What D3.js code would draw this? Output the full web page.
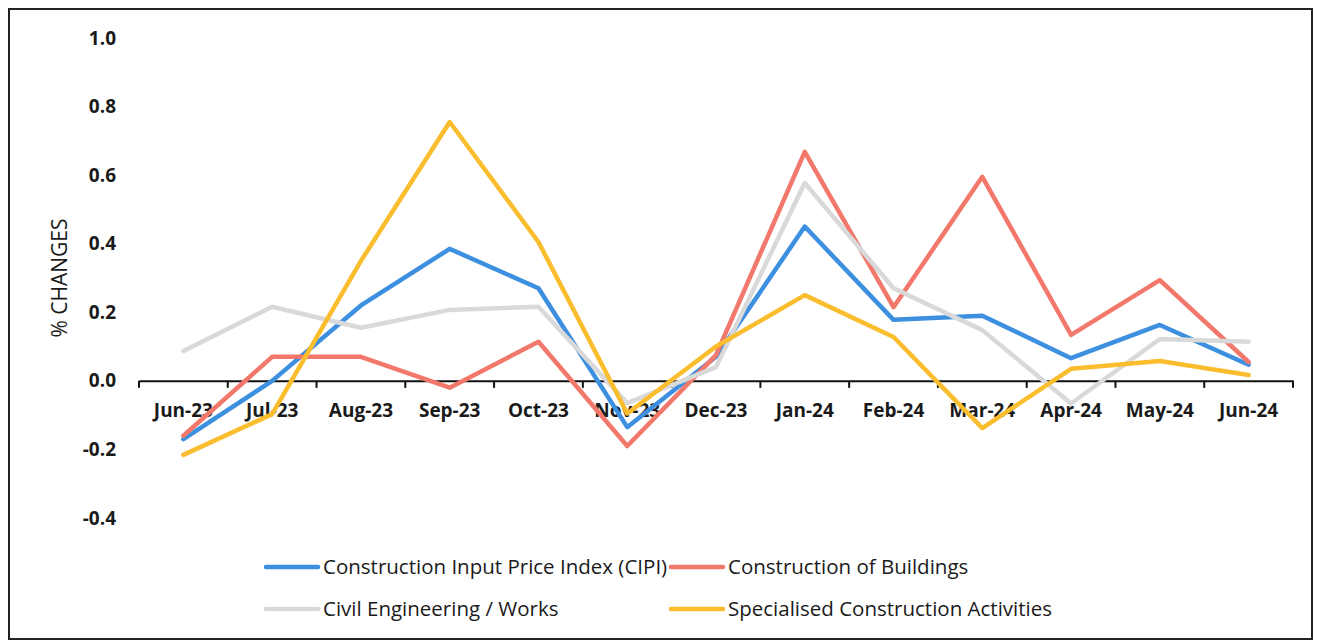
<!DOCTYPE html>
<html>
<head>
<meta charset="utf-8">
<script src="https://cdn.jsdelivr.net/npm/d3@7"></script>
<style>
  body { margin: 0; background: #fff; }
  svg { display: block; }
  text { font-family: "Open Sans", "Noto Sans", sans-serif; fill: #1a1a1a; }
</style>
</head>
<body>
<div id="chart"></div>
<script>
// months on the x axis
var months = ["Jun-23", "Jul-23", "Aug-23", "Sep-23", "Oct-23", "Nov-23", "Dec-23",
              "Jan-24", "Feb-24", "Mar-24", "Apr-24", "May-24", "Jun-24"];

// % changes
var cipi        = [-0.17, 0.00, 0.22, 0.385, 0.27, -0.135, 0.07, 0.45, 0.178, 0.19, 0.066, 0.163, 0.047];
var buildings   = [-0.16, 0.07, 0.07, -0.02, 0.114, -0.19, 0.075, 0.668, 0.215, 0.595, 0.134, 0.294, 0.055];
var civil       = [0.087, 0.216, 0.155, 0.207, 0.216, -0.065, 0.04, 0.577, 0.27, 0.148, -0.066, 0.122, 0.114];
var specialised = [-0.216, -0.097, 0.35, 0.755, 0.405, -0.095, 0.10, 0.25, 0.128, -0.138, 0.035, 0.058, 0.017];

var yTicks = [-0.4, -0.2, 0.0, 0.2, 0.4, 0.6, 0.8, 1.0];

var seriesNames = ["Construction Input Price Index (CIPI)", "Construction of Buildings",
                   "Civil Engineering / Works", "Specialised Construction Activities"];
var seriesColors = ["#3d8fe0", "#f2786b", "#d9d9d9", "#fabd2e"];

var width = 1319, height = 640;

var svg = d3.select("#chart").append("svg")
	.attr("width", width)
	.attr("height", height);

svg.append("rect")
	.attr("width", width)
	.attr("height", height)
	.attr("fill", "#fff");

// frame round the chart
svg.append("rect")
	.attr("x", 9)
	.attr("y", 9)
	.attr("width", 1303)
	.attr("height", 630)
	.attr("fill", "none")
	.attr("stroke", "#222")
	.attr("stroke-width", 2);

var x = d3.scaleBand()
	.domain(months)
	.range([139, 1293]);

var y = d3.scaleLinear()
	.domain([-0.4, 1.0])
	.range([518, 38]);

// y axis: labels only
var yAxis = svg.append("g")
	.attr("transform", "translate(124,0)")
	.call(d3.axisLeft(y)
		.tickValues(yTicks)
		.tickSize(0)
		.tickPadding(8)
		.tickFormat(function(d) { return d.toFixed(1); }));
yAxis.select(".domain").remove();
yAxis.selectAll("text")
	.style("font-size", "19px")
	.style("font-weight", "bold")
	.style("font-family", "'Open Sans', sans-serif")
	.attr("fill", "#1a1a1a");

svg.append("text")
	.attr("transform", "translate(60,278) rotate(-90)")
	.attr("text-anchor", "middle")
	.attr("dy", "0.35em")
	.style("font-size", "21px")
	.text("% CHANGES");

// x axis at zero
var xAxis = svg.append("g")
	.attr("transform", "translate(0," + y(0) + ")")
	.call(d3.axisBottom(x)
		.tickSize(0)
		.tickPadding(23));
xAxis.select(".domain")
	.attr("stroke", "#111")
	.attr("stroke-width", 2);
xAxis.selectAll("text")
	.style("font-size", "19px")
	.style("font-weight", "bold")
	.style("font-family", "'Open Sans', sans-serif")
	.attr("fill", "#1a1a1a");

// tick marks sit between the categories
var edges = months.map(function(m) { return x(m); }).concat([x.range()[1]]);
xAxis.selectAll(".edge")
	.data(edges)
	.enter().append("line")
	.attr("class", "edge")
	.attr("x1", function(d) { return d; })
	.attr("x2", function(d) { return d; })
	.attr("y1", 0)
	.attr("y2", 7)
	.attr("stroke", "#111")
	.attr("stroke-width", 2);

var line = d3.line()
	.x(function(d, i) { return x(months[i]) + x.bandwidth() / 2; })
	.y(function(d) { return y(d); });

var allSeries = [cipi, buildings, civil, specialised];

svg.selectAll(".series")
	.data(allSeries)
	.enter().append("path")
	.attr("class", "series")
	.attr("d", line)
	.attr("fill", "none")
	.attr("stroke", function(d, i) { return seriesColors[i]; })
	.attr("stroke-width", 4.5)
	.attr("stroke-linejoin", "round")
	.attr("stroke-linecap", "round");

// legend, two rows of two
var legend = svg.selectAll(".legend")
	.data(seriesNames)
	.enter().append("g")
	.attr("class", "legend")
	.attr("transform", function(d, i) {
		return "translate(" + (i % 2 === 0 ? 266 : 671) + "," + (i < 2 ? 567 : 609) + ")";
	});

legend.append("line")
	.attr("x1", 0)
	.attr("x2", 52)
	.attr("stroke", function(d, i) { return seriesColors[i]; })
	.attr("stroke-width", 4.5)
	.attr("stroke-linecap", "round");

legend.append("text")
	.attr("x", 57)
	.attr("dy", "0.35em")
	.style("font-size", "20.5px")
	.text(function(d) { return d; });
</script>
</body>
</html>
